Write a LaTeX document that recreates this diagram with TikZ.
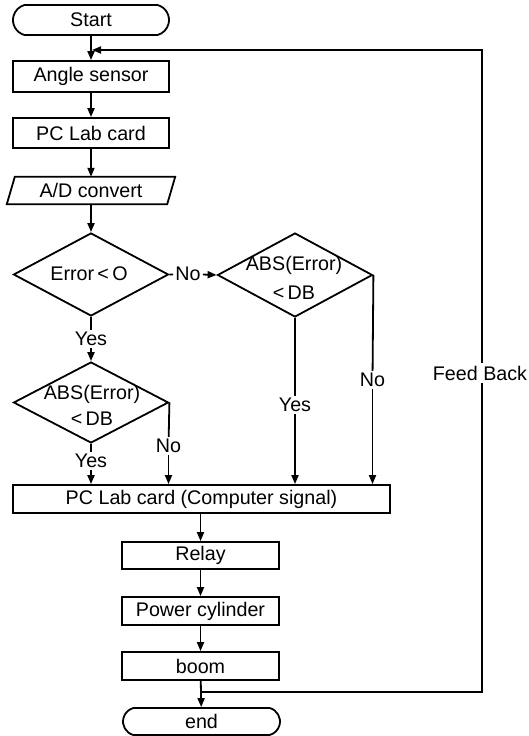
\documentclass[tikz,border=0pt]{standalone}
\usepackage{fontspec}
\setmainfont{Liberation Sans}
\usetikzlibrary{shapes.geometric,shapes.misc,arrows.meta}
\begin{document}
\begin{tikzpicture}[x=1pt,y=-1pt,
  every node/.style={font=\fontsize{19.7}{22}\selectfont, inner sep=0pt},
  lw/.style={line width=1.8pt},
  proc/.style={draw, lw, rectangle, minimum width=156pt, minimum height=30pt},
  term/.style={draw, lw, rounded rectangle, rounded rectangle arc length=150, minimum width=156pt, minimum height=30pt},
  dec/.style={draw, lw, diamond, minimum width=155pt, minimum height=83pt},
  lbl/.style={inner sep=2pt},
  conn/.style={lw},
  arr/.style={lw, -{Triangle[length=9pt,width=7pt]}},
]
\useasboundingbox (0,0) rectangle (528,736);

% left column
\node[term] (start) at (91,20) {Start};
\node[proc, minimum height=31pt] (angle) at (91,76.5) {Angle sensor};
\node[proc] (pclab) at (91,133) {PC Lab card};
\node[minimum width=160pt, minimum height=27pt] (ad) at (91,190.5) {A/D convert};
\draw[lw] ([xshift=4pt]ad.north west) -- ([xshift=4pt]ad.north east) -- ([xshift=-4pt]ad.south east) -- ([xshift=-4pt]ad.south west) -- cycle;

% decisions
\node[dec] (d1) at (91,274.5) {};
\node (d1t) at (89,274) {Error\,<\,O};
\node[dec, minimum height=84pt] (d2) at (295,275) {};
\node[align=center, font=\fontsize{19.7}{29}\selectfont] (d2t) at (294,278) {ABS(Error)\\<\,DB};
\node[dec, minimum height=81pt] (d3) at (91,402.5) {};
\node[align=center, font=\fontsize{19.7}{26}\selectfont] (d3t) at (92,405) {ABS(Error)\\<\,DB};

% labels
\node[lbl] (no1) at (188,274) {No};
\node[lbl] (yes1) at (91,339) {Yes};
\node[lbl] (yes3) at (91,461) {Yes};
\node[lbl] (no3) at (168.5,446) {No};
\node[lbl] (yes2) at (295,405) {Yes};
\node[lbl] (no2) at (372.5,380) {No};

% lower column
\node[proc, minimum width=377pt, minimum height=28pt] (pcs) at (201.5,499) {PC Lab card (Computer signal)};
\node[proc, minimum width=157pt, minimum height=27pt] (relay) at (200.5,555.5) {Relay};
\node[proc, minimum width=157pt, minimum height=28pt] (power) at (200.5,611) {Power cylinder};
\node[proc, minimum width=157pt, minimum height=28pt] (boom) at (200.5,666) {boom};
\node[term, minimum width=157pt, minimum height=27pt] (end) at (201.5,721.5) {end};

% connectors
\draw[arr] (start) -- (angle);
\draw[arr] (angle) -- (pclab);
\draw[arr] (pclab) -- (ad);
\draw[arr] (ad) -- (d1);
\draw[conn] (d1.south) -- (yes1);
\draw[arr] (yes1) -- (d3.north);
\draw[conn] (d3.south) -- (yes3);
\draw[arr] (yes3) -- (yes3 |- pcs.north);
\draw[conn] (d3.east) -- (no3);
\draw[arr] (no3) -- (no3 |- pcs.north);
\draw[conn] (d1.east) -- (no1);
\draw[arr] (no1) -- (d2.west);
\draw[conn] (d2.south) -- (yes2);
\draw[arr] (yes2) -- (yes2 |- pcs.north);
\draw[conn] (d2.east) -- (no2);
\draw[arr] (no2) -- (no2 |- pcs.north);
\draw[arr] (relay.north |- pcs.south) -- (relay.north);
\draw[arr] (relay) -- (power);
\draw[arr] (power) -- (boom);
\draw[arr] (boom) -- (end);

% feedback
\coordinate (j1) at (92,50);
\coordinate (j2) at (200.5,692);
\coordinate (fbr) at (482,692);
\coordinate (fbt) at (482,50);
\draw[arr] (j2) -- (fbr) -- (fbt) -- (j1);
\node[fill=white, inner sep=3pt] (fb) at (480,373) {Feed Back};
\end{tikzpicture}
\end{document}
